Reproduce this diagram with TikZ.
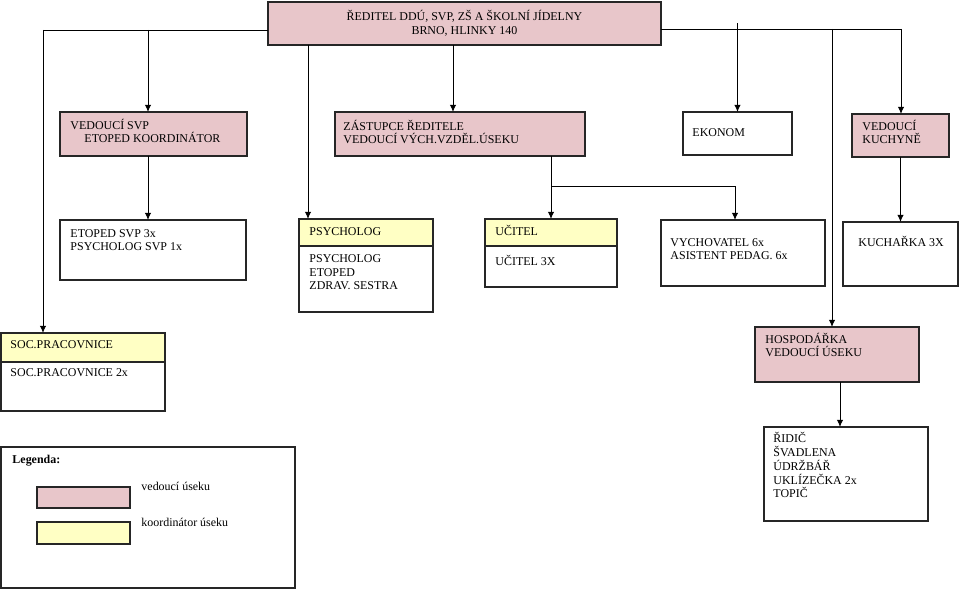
\documentclass[tikz,border=0pt]{standalone}
\usepackage{fontspec}
\setmainfont{Liberation Serif}
\usetikzlibrary{arrows.meta}
\definecolor{vedouci}{RGB}{232,198,202}
\definecolor{koord}{RGB}{255,255,196}

\begin{document}
\begin{tikzpicture}[x=0.02cm,y=-0.02cm,->,>={Latex[length=4pt,width=3.6pt]},line width=0.55pt]
        \tikzstyle{unit}=[rectangle,draw=black!85,line width=0.7pt,fill=white,anchor=north west,outer sep=0pt,inner sep=0pt]
        \tikzstyle{lead}=[unit,fill=vedouci]
        \tikzstyle{head}=[unit,fill=koord]
        \tikzstyle{txt}=[anchor=base west,align=left,inner sep=0pt,font=\fontsize{6.8}{7.95}\selectfont]

        \useasboundingbox (0,0) rectangle (960,590);

        % boxes
        \node [lead, minimum width=7.86cm, minimum height=0.86cm, align=center, font=\fontsize{6.8}{7.95}\selectfont] (reditel) at (268,2) {ŘEDITEL DDÚ, SVP, ZŠ A ŠKOLNÍ JÍDELNY\\BRNO, HLINKY 140};
        \node [lead, minimum width=3.74cm, minimum height=0.88cm] (vsvp) at (60,112) {};
        \node [lead, minimum width=5.00cm, minimum height=0.88cm] (zast) at (335,112) {};
        \node [unit, minimum width=2.18cm, minimum height=0.86cm] (ekon) at (683,112) {};
        \node [lead, minimum width=1.94cm, minimum height=0.86cm] (vkuch) at (852,114) {};

        \node [unit, minimum width=3.72cm, minimum height=1.20cm] (etop) at (60,220) {};
        \node [unit, minimum width=2.68cm, minimum height=1.86cm] (psych) at (299,219) {};
        \node [head, minimum width=2.68cm, minimum height=0.54cm] (psychH) at (299,219) {};
        \node [unit, minimum width=2.64cm, minimum height=1.36cm] (ucitel) at (485,219) {};
        \node [head, minimum width=2.64cm, minimum height=0.54cm] (ucitelH) at (485,219) {};
        \node [unit, minimum width=3.28cm, minimum height=1.32cm] (vych) at (661,220) {};
        \node [unit, minimum width=2.30cm, minimum height=1.28cm] (kuchar) at (843,222) {};

        \node [unit, minimum width=3.28cm, minimum height=1.56cm] (soc) at (1,333) {};
        \node [head, minimum width=3.28cm, minimum height=0.58cm] (socH) at (1,333) {};
        \node [lead, minimum width=3.28cm, minimum height=1.10cm] (hosp) at (755,327) {};
        \node [unit, minimum width=3.28cm, minimum height=1.88cm] (ridic) at (764,427) {};

        % legenda
        \node [unit, minimum width=5.88cm, minimum height=2.82cm] (legenda) at (1,447) {};
        \node [lead, minimum width=1.86cm, minimum height=0.42cm] (legV) at (37,487) {};
        \node [head, minimum width=1.86cm, minimum height=0.44cm] (legK) at (37,522) {};

        % texts (base = last line)
        \node [txt] (vsvpT) at (70,143) {VEDOUCÍ SVP\\\hspace*{0.28cm}ETOPED KOORDINÁTOR};
        \node [txt] (zastT) at (343,144) {ZÁSTUPCE ŘEDITELE\\VEDOUCÍ VÝCH.VZDĚL.ÚSEKU};
        \node [txt] (ekonT) at (692,137) {EKONOM};
        \node [txt] (vkuchT) at (862,144) {VEDOUCÍ\\KUCHYNĚ};
        \node [txt] (etopT) at (70,251) {ETOPED SVP 3x\\PSYCHOLOG SVP 1x};
        \node [txt] (psychHT) at (309,236) {PSYCHOLOG};
        \node [txt] (psychT) at (309,290) {PSYCHOLOG\\ETOPED\\ZDRAV. SESTRA};
        \node [txt] (ucitelHT) at (495,236) {UČITEL};
        \node [txt] (ucitelT) at (495,266) {UČITEL 3X};
        \node [txt] (vychT) at (670,260) {VYCHOVATEL 6x\\ASISTENT PEDAG. 6x};
        \node [txt] (kucharT) at (858,247) {KUCHAŘKA 3X};
        \node [txt] (socHT) at (10,349) {SOC.PRACOVNICE};
        \node [txt] (socT) at (10,377) {SOC.PRACOVNICE 2x};
        \node [txt] (hospT) at (765,357) {HOSPODÁŘKA\\VEDOUCÍ ÚSEKU};
        \node [txt] (ridicT) at (773,498) {ŘIDIČ\\ŠVADLENA\\ÚDRŽBÁŘ\\UKLÍZEČKA 2x\\TOPIČ};
        \node [txt, font=\bfseries\fontsize{6.8}{7.95}\selectfont] (legendaT) at (12,464) {Legenda:};
        \node [txt] (legVT) at (141,491) {vedoucí úseku};
        \node [txt] (legKT) at (141,527) {koordinátor úseku};

        % connectors
        \coordinate (levo) at (43,30);
        \coordinate (svpJ) at (148,30);
        \coordinate (psX) at (308,0);
        \coordinate (zaX) at (453,0);
        \coordinate (pravo) at (901,29);
        \coordinate (hoJ) at (832,29);
        \coordinate (hoB) at (840,0);
        \coordinate (zb) at (551,186);
        \coordinate (vyJ) at (735,186);

        \draw [-] (reditel.west |- levo) -- (levo);
        \draw (levo) -- (levo |- soc.north);
        \draw (svpJ) -- (svpJ |- vsvp.north);
        \draw (reditel.south -| psX) -- (psych.north -| psX);
        \draw (reditel.south -| zaX) -- (zast.north -| zaX);
        \draw [-] (reditel.east |- pravo) -- (pravo);
        \draw (pravo) -- (pravo |- vkuch.north);
        \draw (reditel.east -| ekon.north) -- (ekon.north);
        \draw (hoJ) -- (hoJ |- hosp.north);

        \draw (vsvp.south -| svpJ) -- (etop.north -| svpJ);
        \draw (zast.south -| zb) -- (ucitel.north -| zb);
        \draw (zb) -- (vyJ) -- (vyJ |- vych.north);
        \draw (vkuch.south) -- (vkuch.south |- kuchar.north);
        \draw (hosp.south -| hoB) -- (ridic.north -| hoB);
\end{tikzpicture}
\end{document}
